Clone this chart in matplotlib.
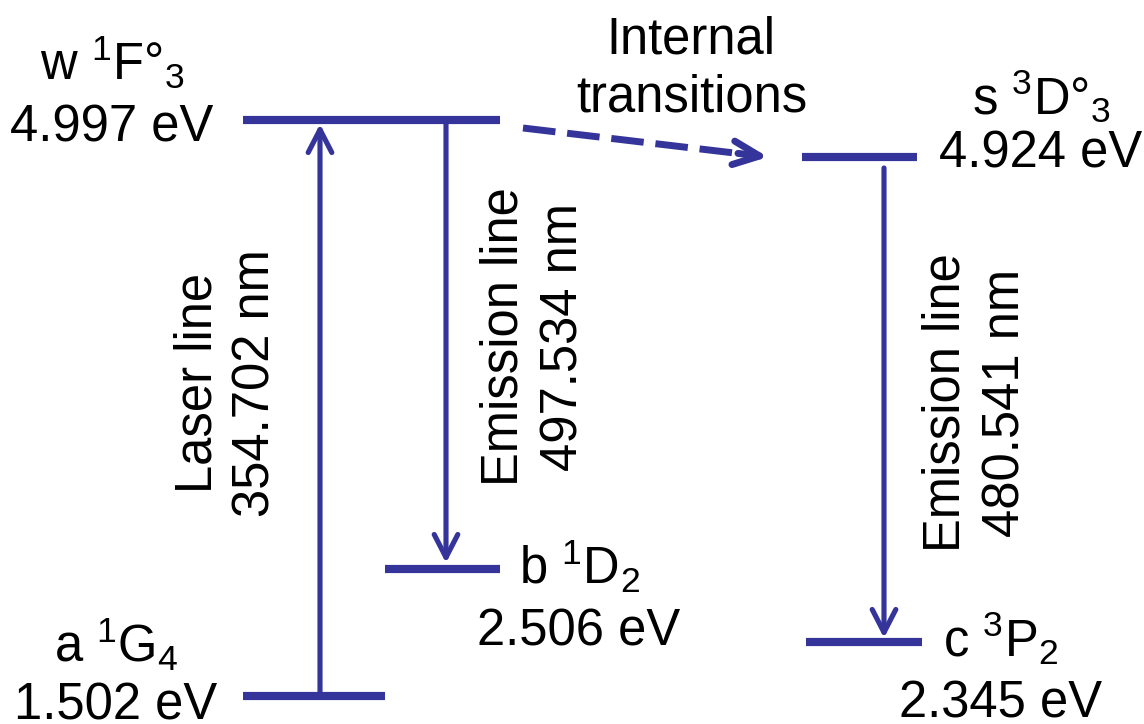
import matplotlib
matplotlib.use('Agg')
import matplotlib.pyplot as plt

# ---------------- data ----------------
level_config = ['w', 'a', 'b', 's', 'c']
level_term_sup = ['1', '1', '1', '3', '3']
level_term_L = ['F°', 'G', 'D', 'D°', 'P']
level_term_J = ['3', '4', '2', '3', '2']
level_energy_eV = [4.997, 1.502, 2.506, 4.924, 2.345]

transition_names = ['Laser line', 'Emission line', 'Emission line']
transition_wavelength_nm = [354.702, 497.534, 480.541]
internal_label = ['Internal', 'transitions']

# ---------------- layout (schematic canvas coordinates) ----------------
level_x0 = [243, 243, 385, 802, 806]
level_x1 = [500, 385, 500, 917, 922]
level_y = [120, 696, 569, 157, 642]
label_cx = [112, 116, 579, 1041, 1001]
label_base1 = [80, 663, 585, 115, 657]
label_base2 = [142, 719, 645, 168, 717]

arrow_x = [320, 446, 884]
arrow_start_y = [696, 120, 168]
arrow_tip_y = [124, 563, 638]
text_cy = [383, 337, 403]
text_base1 = [212, 518, 960]
text_base2 = [270, 577, 1020]

C = '#34349a'
FS = 36.5

plt.rcParams['font.family'] = ['Liberation Sans', 'DejaVu Sans']
plt.rcParams['mathtext.fontset'] = 'custom'
plt.rcParams['mathtext.rm'] = 'Liberation Sans'
plt.rcParams['mathtext.it'] = 'Liberation Sans'
plt.rcParams['mathtext.default'] = 'regular'

fig = plt.figure(figsize=(11.44, 7.24), dpi=100)
ax = fig.add_axes([0, 0, 1, 1])
ax.set_xlim(0, 1144)
ax.set_ylim(724, 0)
ax.axis('off')

# levels
for i in range(len(level_config)):
    ax.plot([level_x0[i], level_x1[i]], [level_y[i], level_y[i]],
            color=C, lw=5.9, solid_capstyle='butt')
    term = f"{level_config[i]} $^{{{level_term_sup[i]}}}${level_term_L[i]}$_{{{level_term_J[i]}}}$"
    ax.text(label_cx[i], label_base1[i], term, fontsize=FS, ha='center', va='baseline')
    ax.text(label_cx[i], label_base2[i], f"{level_energy_eV[i]:.3f} eV",
            fontsize=FS, ha='center', va='baseline')

astyle = '->,head_length=1.65,head_width=0.85'
for k in range(len(transition_names)):
    ax.annotate('', xy=(arrow_x[k], arrow_tip_y[k]), xytext=(arrow_x[k], arrow_start_y[k]),
                arrowprops=dict(arrowstyle=astyle, lw=3.7, color=C, mutation_scale=10,
                                shrinkA=0, shrinkB=0, capstyle='round', joinstyle='round'))
    ax.text(text_base1[k], text_cy[k], transition_names[k], fontsize=FS, rotation=90,
            rotation_mode='anchor', ha='center', va='baseline')
    ax.text(text_base2[k], text_cy[k], f"{transition_wavelength_nm[k]:.3f} nm", fontsize=FS,
            rotation=90, rotation_mode='anchor', ha='center', va='baseline')

# internal transition (dashed)
dx0, dy0 = 523, 128
dx1, dy1 = 768, 157
ax.plot([dx0, dx1 - 10], [dy0, dy1 - 1.2], color=C, lw=5.0, dashes=(4.7, 1.7),
        solid_capstyle='butt', dash_capstyle='butt')
ax.annotate('', xy=(dx1, dy1), xytext=(dx1 - 30, dy1 - 3.6),
            arrowprops=dict(arrowstyle='->,head_length=1.9,head_width=0.85', lw=5.0, color=C,
                            mutation_scale=10, shrinkA=0, shrinkB=0,
                            capstyle='round', joinstyle='round'))
ax.text(691, 53, internal_label[0], fontsize=FS, ha='center', va='baseline')
ax.text(692, 112, internal_label[1], fontsize=FS, ha='center', va='baseline')

fig.savefig('out.png', dpi=100)
